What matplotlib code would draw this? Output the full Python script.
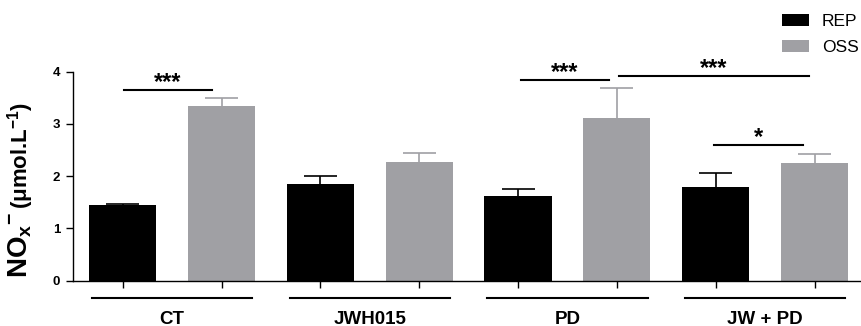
import matplotlib
matplotlib.use("Agg")
import matplotlib.pyplot as plt
from matplotlib.lines import Line2D
import matplotlib.transforms as mtransforms
import numpy as np

plt.rcParams['font.family'] = ['Liberation Sans', 'DejaVu Sans']
plt.rcParams['mathtext.fontset'] = 'custom'
plt.rcParams['mathtext.rm'] = 'Liberation Sans:bold'
plt.rcParams['mathtext.bf'] = 'Liberation Sans:bold'
plt.rcParams['mathtext.it'] = 'Liberation Sans:bold'
plt.rcParams['mathtext.default'] = 'bf'

groups = ["CT", "JWH015", "PD", "JW + PD"]
series = ["REP", "OSS"]
rep_mean = [1.44, 1.86, 1.63, 1.79]
rep_err = [0.03, 0.15, 0.12, 0.27]
oss_mean = [3.34, 2.27, 3.11, 2.25]
oss_err = [0.16, 0.17, 0.58, 0.17]
y_ticks = [0, 1, 2, 3, 4]

# significance: (x_start, x_end, y, label)
sig_bars = [(0.01, 0.90, 3.65, "***"),
            (4.03, 4.92, 3.85, "***"),
            (5.02, 6.94, 3.92, "***"),
            (5.98, 6.88, 2.59, "*")]

black = "#000000"
gray = "#a0a0a4"

W, H = 861, 326
fig = plt.figure(figsize=(W / 100, H / 100), dpi=100)
ax = fig.add_axes([72.7 / W, 1 - 280.7 / H, 1 - 72.7 / W, (280.7 - 71.7) / H])

n = len(groups)
x_rep = np.arange(n) * 2
x_oss = x_rep + 1
w = 0.68
cap = 0.167
ax.bar(x_rep, rep_mean, width=w, color=black, label=series[0], zorder=2)
ax.bar(x_oss, oss_mean, width=w, color=gray, label=series[1], zorder=2)
for xs, m, e, c in [(x_rep, rep_mean, rep_err, black), (x_oss, oss_mean, oss_err, gray)]:
    m = np.array(m); e = np.array(e)
    ax.vlines(xs, m, m + e, colors=c, lw=1.2, zorder=1)
    ax.hlines(m + e, xs - cap, xs + cap, colors=c, lw=1.2, zorder=1)

ax.set_xlim(-0.506, 7.47)
ax.set_ylim(0, 4)
ax.set_yticks(y_ticks)
ax.set_yticklabels([str(t) for t in y_ticks], fontweight='bold', fontsize=9.5)
ax.set_xticks(np.arange(2 * n))
ax.set_xticklabels([])
ax.tick_params(axis='both', length=5, width=1, direction='out', pad=4)
for s in ['top', 'right']:
    ax.spines[s].set_visible(False)
for s in ['left', 'bottom']:
    ax.spines[s].set_linewidth(1)

# y label in two sizes
t1 = fig.text(27 / W, 1 - 278 / H, r"NO$_{x}{}^{-}$", rotation=90, rotation_mode='anchor',
              ha='left', va='baseline', fontsize=20, fontweight='bold')
fig.canvas.draw()
ext = t1.get_window_extent()
t2 = fig.text(27 / W, (ext.y1 + 3) / H, r"(μmol.L$^{-1}$)", rotation=90, rotation_mode='anchor',
              ha='left', va='baseline', fontsize=16, fontweight='bold')

# group underlines and labels
lab_tr = mtransforms.blended_transform_factory(ax.transData, fig.transFigure)
for i, g in enumerate(groups):
    c = 2 * i + 0.5
    ax.add_line(Line2D([c - 0.81, c + 0.81], [-0.34, -0.34], color=black, lw=1.5, clip_on=False))
    ax.text(c, 1 - 310.5 / H, g, ha='center', va='top', fontsize=13.5, fontweight='bold',
            transform=lab_tr)

star_tr = ax.transData + mtransforms.ScaledTranslation(0, 1 / 100, fig.dpi_scale_trans)
for x0, x1, y, lab in sig_bars:
    ax.add_line(Line2D([x0, x1], [y, y], color=black, lw=1.5, clip_on=False))
    ax.text((x0 + x1) / 2, y, lab, ha='center', va='baseline', fontsize=17,
            fontweight='bold', transform=star_tr, clip_on=False)

leg = ax.legend(loc='upper left', bbox_to_anchor=(782 / W, 1 - 14 / H), bbox_transform=fig.transFigure,
                frameon=False, fontsize=12.5, handlelength=1.55, handleheight=0.73,
                handletextpad=0.75, labelspacing=0.6, borderpad=0, borderaxespad=0)

fig.savefig("out.png", dpi=100)
